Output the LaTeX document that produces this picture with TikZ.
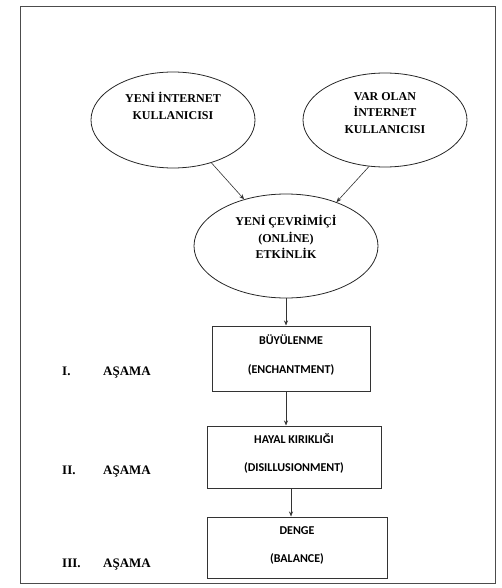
\documentclass[tikz,border=0pt]{standalone}
\usepackage{fontspec}
\setmainfont{Liberation Serif}
\newfontfamily\boxfont{Carlito}
\usetikzlibrary{shapes.geometric,positioning,arrows.meta}

\begin{document}
\begin{tikzpicture}[
  x=1pt,y=-1pt,
  >={Stealth[length=5pt,width=4pt]},
  user/.style={draw=black!85,line width=0.8pt,ellipse,inner sep=0pt},
  usertext/.style={align=center,font=\fontsize{12}{16.5}\selectfont\bfseries},
  stagebox/.style={draw=black!80,line width=1pt,rectangle,align=center,inner sep=0pt,
    font=\boxfont\fontsize{12}{14}\selectfont\bfseries},
  stagelabel/.style={anchor=base west,inner sep=0pt,font=\fontsize{13}{15}\selectfont\bfseries},
  link/.style={->,draw=black!80,line width=0.6pt}
]
  \useasboundingbox (0,0) rectangle (501,588);
  \draw[black!70,line width=1pt] (20,7) rectangle (495,583);

  % kullanicilar
  \node[user,minimum width=164pt,minimum height=96pt] (newuser) at (173,120) {};
  \node[usertext] (newusertext) at (173,106) {YENİ İNTERNET\\KULLANICISI};
  \node[user,minimum width=164pt,minimum height=94pt] (olduser) at (385,120) {};
  \node[usertext] (oldusertext) at (385,113) {VAR OLAN\\İNTERNET\\KULLANICISI};
  \node[user,minimum width=184pt,minimum height=104pt] (online) at (286,246) {};
  \node[usertext] (onlinetext) at (286,237) {YENİ ÇEVRİMİÇİ\\(ONLİNE)\\ETKİNLİK};

  % asamalar
  \node[stagebox,minimum width=158pt,minimum height=65pt] (stage1) at (291,358.5)
    {BÜYÜLENME\\[15pt](ENCHANTMENT)\\[-6pt]\mbox{}};
  \node[stagebox,minimum width=174pt,minimum height=62pt] (stage2) at (294,457)
    {HAYAL KIRIKLIĞI\\[14pt](DISILLUSIONMENT)\\[-6pt]\mbox{}};
  \node[stagebox,minimum width=180pt,minimum height=61pt] (stage3) at (297,547.5)
    {DENGE\\[14pt](BALANCE)\\[-8pt]\mbox{}};

  \foreach \num/\y [count=\i] in {I./375,II./474,III./567} {
    \node[stagelabel] (num\i) at (62,\y) {\num};
    \node[stagelabel] (phase\i) at (103,\y) {AŞAMA};
  }

  \draw[link] (newuser) -- (online);
  \draw[link] (olduser.-109) -- (online.41);
  \draw[link] (online) -- (online |- stage1.north);
  \coordinate (out1) at ([xshift=-5pt]stage1.south);
  \coordinate (out2) at ([xshift=-3pt]stage2.south);
  \draw[link] (out1) -- (out1 |- stage2.north);
  \draw[link] (out2) -- (out2 |- stage3.north);
\end{tikzpicture}
\end{document}
